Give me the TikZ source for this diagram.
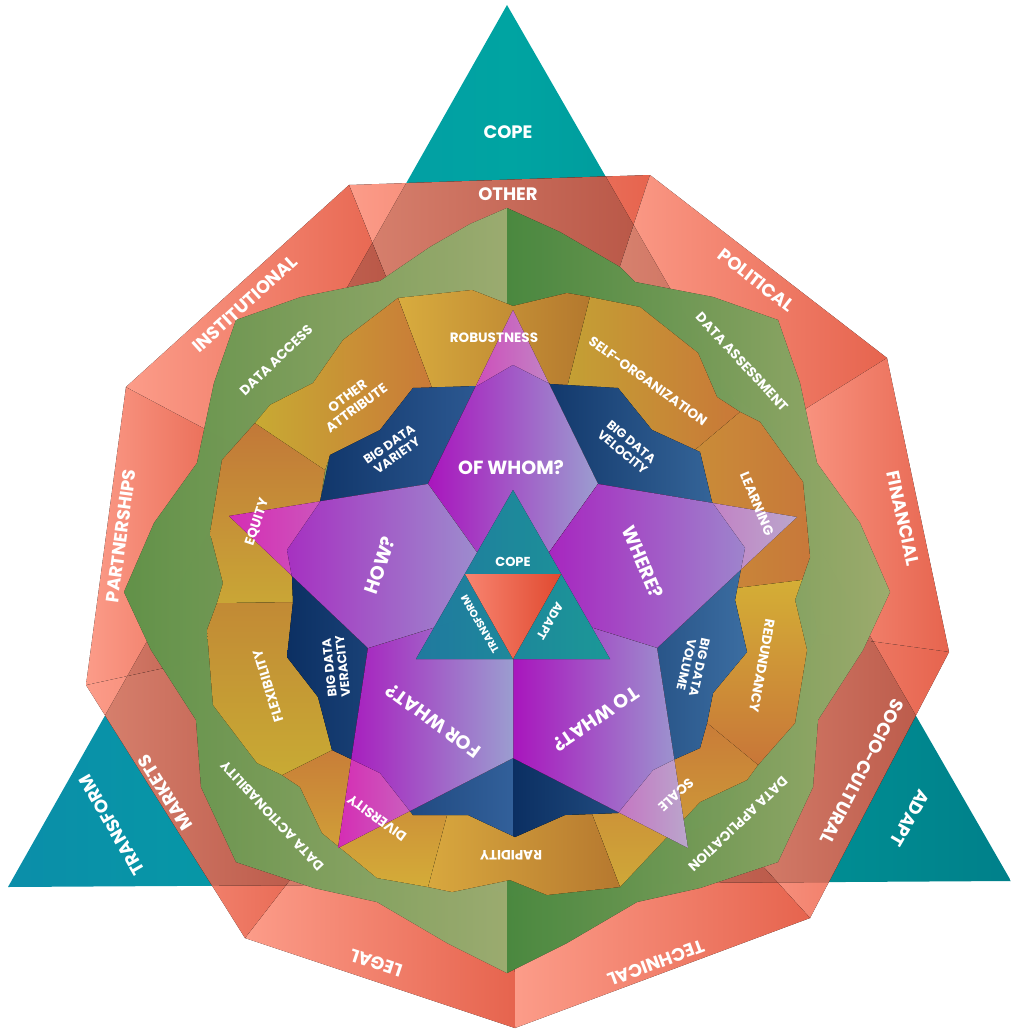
\documentclass[tikz,border=0pt]{standalone}
\usepackage{fontspec}
\setmainfont{Poppins}
\usetikzlibrary{calc}
\definecolor{salL}{HTML}{FC9C89}
\definecolor{salR}{HTML}{E6644E}
\definecolor{salTL}{HTML}{D8826F}
\definecolor{salTR}{HTML}{B85646}
\definecolor{tealL}{HTML}{0B8EA9}
\definecolor{tealM}{HTML}{00A4A2}
\definecolor{tealR}{HTML}{00808A}
\definecolor{grnDL}{HTML}{689C4E}
\definecolor{grnLL}{HTML}{A6B878}
\definecolor{grnDR}{HTML}{4F9244}
\definecolor{grnLR}{HTML}{A9B976}
\definecolor{navyD}{HTML}{0B2F62}
\definecolor{navyL}{HTML}{3C6EA2}
\definecolor{magK}{HTML}{A915BD}
\definecolor{lavK}{HTML}{9B9DD0}
\definecolor{tipL}{HTML}{D52DB4}
\definecolor{tipR}{HTML}{BAA6CC}
\definecolor{copeL}{HTML}{2282AA}
\definecolor{copeR}{HTML}{1DA3A2}
\definecolor{redL}{HTML}{F88470}
\definecolor{redR}{HTML}{E04A30}
\newcommand\Gpath{(507,208)--(560,232)--(620,267)--(635,282)--(713,297)--(778,320)--(800,383)--(817,463)--(860,523)--(890,592)--(863,650)--(818,720)--(813,787)--(778,862)--(700,888)--(637,902)--(567,943)--(507,973)--(447,943)--(377,902)--(314,888)--(236,862)--(201,787)--(196,720)--(151,650)--(124,592)--(154,523)--(197,463)--(214,383)--(236,320)--(301,297)--(380,281)--(430,247)--(470,224)--cycle}
\newcommand\Bpath{(513,365)--(550,384)--(618,388)--(652,430)--(700,452)--(712,502)--(745,548)--(735,600)--(747,652)--(713,693)--(707,723)--(700,748)--(673,760)--(653,770)--(618,813)--(565,815)--(515,837)--(468,815)--(413,815)--(380,773)--(353,760)--(332,750)--(318,697)--(287,657)--(293,602)--(292,577)--(287,550)--(320,502)--(330,455)--(380,430)--(413,388)--(477,386)--cycle}
\begin{document}
\begin{tikzpicture}[x=1pt,y=-1pt,
  lab/.style={text=white, inner sep=0pt, align=center},
  big/.style={lab, font=\bfseries\fontsize{18}{20}\selectfont},
  mid/.style={lab, font=\bfseries\fontsize{13.5}{15}\selectfont},
  sml/.style={lab, font=\bfseries\fontsize{12.5}{13.5}\selectfont},
  starl/.style={lab, font=\bfseries\fontsize{19}{21}\selectfont},
  panel/.style={left color=salL, right color=salR},
  panelT/.style={left color=salTL, right color=salTR},
  kiteshade/.style={left color=magK, right color=lavK},
  tipshade/.style={left color=tipL, right color=tipR},
]
\useasboundingbox (0,0) rectangle (1011,1030);
% big teal triangle
\coordinate (TA) at (507,5); \coordinate (TB) at (8,887); \coordinate (TC) at (1011,881);
\shade[left color=tealL, right color=tealR, middle color=tealM] (TA)--(TB)--(TC)--cycle;
% red panels
\coordinate (Cn) at (513,592);
\foreach \n/\x/\y in {0/349/185,1/650/175,2/887/358,3/949/652,4/810/918,5/515/1028,6/245/938,7/86/685,8/126/387}
  \coordinate (V\n) at (\x,\y);
\foreach \n in {0,...,8} \coordinate (W\n) at ($(Cn)!0.7!(V\n)$);
\foreach \a/\b in {0/1,1/2,2/3,3/4,4/5,5/6,6/7,7/8,8/0}
  \fill[panel] (V\a)--(V\b)--(W\b)--(W\a)--cycle;
\begin{scope}
\clip (TA)--(TB)--(TC)--cycle;
\foreach \a/\b in {0/1,1/2,2/3,3/4,4/5,5/6,6/7,7/8,8/0}
  \fill[panelT] (V\a)--(V\b)--(W\b)--(W\a)--cycle;
\end{scope}
% green
\begin{scope}
\clip \Gpath;
\fill[left color=grnDL, right color=grnLL, fill opacity=0.93] (120,200) rectangle (507,980);
\fill[left color=grnDR, right color=grnLR, fill opacity=0.93] (507,200) rectangle (895,980);
\end{scope}
% orange ring seams
\coordinate (o1) at (398,298); \coordinate (i1) at (432,388);
\coordinate (o2) at (590,297); \coordinate (i2) at (567,388);
\coordinate (o3) at (740,412); \coordinate (i3) at (695,450);
\coordinate (o4) at (802,580); \coordinate (i4) at (737,588);
\coordinate (o5) at (758,765); \coordinate (i5) at (707,723);
\coordinate (o6) at (620,887); \coordinate (i6) at (592,814);
\coordinate (o7) at (428,887); \coordinate (i7) at (447,815);
\coordinate (o8) at (282,775); \coordinate (i8) at (332,750);
\coordinate (o9) at (217,603); \coordinate (i9) at (293,602);
\coordinate (o10) at (255,423); \coordinate (i10) at (325,470);
\fill[left color={rgb,255:red,216;green,172;blue,62}, right color={rgb,255:red,180;green,120;blue,46}]
  (o1)--(472,290)--(513,306)--(567,293)--(o2)--(i2)--(550,384)--(513,365)--(477,386)--(i1)--cycle;
\fill[left color={rgb,255:red,196;green,160;blue,52}, right color={rgb,255:red,201;green,120;blue,56}]
  (o2)--(640,307)--(698,353)--(717,397)--(o3)--(i3)--(652,430)--(618,388)--(i2)--cycle;
\fill[left color={rgb,255:red,201;green,140;blue,56}, right color={rgb,255:red,200;green,120;blue,58}]
  (o3)--(760,422)--(803,482)--(810,557)--(o4)--(i4)--(745,548)--(712,502)--(700,452)--(i3)--cycle;
\fill[top color={rgb,255:red,212;green,174;blue,54}, bottom color={rgb,255:red,200;green,118;blue,56}]
  (o4)--(795,600)--(807,650)--(795,723)--(o5)--(i5)--(713,693)--(747,652)--(735,600)--(i4)--cycle;
\fill[top color={rgb,255:red,201;green,124;blue,56}, bottom color={rgb,255:red,207;green,168;blue,56}]
  (o5)--(747,780)--(700,802)--(o6)--(i6)--(618,813)--(653,770)--(673,760)--(700,748)--(i5)--cycle;
\fill[left color={rgb,255:red,216;green,168;blue,62}, right color={rgb,255:red,182;green,120;blue,47}]
  (o6)--(547,895)--(510,880)--(452,892)--(o7)--(i7)--(468,815)--(515,837)--(565,815)--(i6)--cycle;
\fill[top color={rgb,255:red,200;green,126;blue,56}, bottom color={rgb,255:red,212;green,172;blue,56}]
  (o7)--(377,878)--(322,833)--(300,787)--(o8)--(i8)--(353,760)--(380,773)--(413,815)--(i7)--cycle;
\fill[top color={rgb,255:red,194;green,138;blue,53}, bottom color={rgb,255:red,200;green,170;blue,52}]
  (o8)--(257,763)--(213,705)--(207,630)--(o9)--(i9)--(287,657)--(318,697)--(i8)--cycle;
\fill[top color={rgb,255:red,194;green,120;blue,56}, bottom color={rgb,255:red,201;green,166;blue,54}]
  (o9)--(223,583)--(210,533)--(222,460)--(o10)--(i10)--(320,502)--(287,550)--(292,577)--(i9)--cycle;
\fill[left color={rgb,255:red,200;green,170;blue,51}, right color={rgb,255:red,201;green,122;blue,56}]
  (o10)--(270,405)--(313,383)--(343,340)--(o1)--(i1)--(413,388)--(380,430)--(330,455)--(i10)--cycle;
% blue ring
\begin{scope}
\clip \Bpath;
\fill[left color=navyD, right color={rgb,255:red,50;green,96;blue,154}] (285,360) rectangle (513,840);
\fill[left color=navyD, right color=navyL] (513,360) rectangle (750,840);
\end{scope}
% star kites
\coordinate (C) at (513,603);
\coordinate (T0) at (513,310); \coordinate (I01) at (598,484);
\coordinate (T1) at (797,517); \coordinate (I12) at (657,648);
\coordinate (T2) at (688,848); \coordinate (I23) at (513,758);
\coordinate (T3) at (338,848); \coordinate (I34) at (368,648);
\coordinate (T4) at (229,516); \coordinate (I40) at (428,484);
\foreach \t/\r/\l in {T0/I01/I40,T1/I12/I01,T2/I23/I12,T3/I34/I23,T4/I40/I34}{
  \fill[tipshade] (\t)--(\r)--(C)--(\l)--cycle;
  \begin{scope}\clip \Bpath; \fill[kiteshade] (\t)--(\r)--(C)--(\l)--cycle; \end{scope}
}
% central triangles
\fill[left color=copeL, right color=copeR, fill opacity=0.93] (513,490)--(416,659)--(610,659)--cycle;
\fill[left color=redL, right color=redR] (465,574)--(561,574)--(513,659)--cycle;
% outer labels
\node[big] (lcope) at (508,132) {COPE};
\node[big, rotate=120] (ltrans) at (112,825) {TRANSFORM};
\node[big, rotate=-120] (ladapt) at (910,818) {ADAPT};
\node[big] (p0) at (508,194) {OTHER};
\node[big, rotate=-37.7] (p1) at (756,280) {POLITICAL};
\node[big, rotate=-78] (p2) at (903,518) {FINANCIAL};
\node[big, rotate=-117.6] (p3) at (862,772) {SOCIO-CULTURAL};
\node[big, rotate=-159.5] (p4) at (656,963) {TECHNICAL};
\node[big, rotate=161.6] (p5) at (376,963) {LEGAL};
\node[big, rotate=122] (p6) at (165,793) {MARKETS};
\node[big, rotate=82.4] (p7) at (121,536) {PARTNERSHIPS};
\node[big, rotate=42.2] (p8) at (245,304) {INSTITUTIONAL};
% green labels
\node[mid, rotate=43.8] (g1) at (276,360) {DATA ACCESS};
\node[mid, rotate=-47.4] (g2) at (742,362) {DATA ASSESSMENT};
\node[mid, rotate=-136.5] (g3) at (738,824) {DATA APPLICATION};
\node[mid, rotate=133] (g4) at (272,816) {DATA ACTIONABILITY};
% orange labels
\node[mid] (a1) at (494,338) {ROBUSTNESS};
\node[mid, rotate=-35.6] (a2) at (648,381) {SELF-ORGANIZATION};
\node[mid, rotate=-67.4] (a3) at (757,504) {LEARNING};
\node[mid, rotate=-100] (a4) at (762,666) {REDUNDANCY};
\node[mid, rotate=-137.7] (a5) at (676,795) {SCALE};
\node[mid, rotate=180] (a6) at (511,855) {RAPIDITY};
\node[mid, rotate=144] (a7) at (377,818) {DIVERSITY};
\node[mid, rotate=107] (a8) at (268,686) {FLEXIBILITY};
\node[mid, rotate=71.6] (a9) at (257,522) {EQUITY};
\node[mid, rotate=36.4] (a10) at (352,402) {OTHER\\ATTRIBUTE};
% big data labels
\node[sml, rotate=34.9] (b1) at (393,450) {BIG DATA\\VARIETY};
\node[sml, rotate=-39.8] (b2) at (627,447) {BIG DATA\\VELOCITY};
\node[sml, rotate=-102.5] (b3) at (693,666) {BIG DATA\\VOLUME};
\node[sml, rotate=96] (b4) at (336,667) {BIG DATA\\VERACITY};
% star labels
\node[starl] (s0) at (511,468) {OF WHOM?};
\node[starl, rotate=-66.8] (s1) at (643,562) {WHERE?};
\node[starl, rotate=-145.7] (s2) at (596,719) {TO WHAT?};
\node[starl, rotate=144] (s3) at (433,721) {FOR WHAT?};
\node[starl, rotate=71] (s4) at (380,565) {HOW?};
% centre labels
\node[lab, font=\bfseries\fontsize{13}{14}\selectfont] (c1) at (513,562) {COPE};
\node[lab, font=\bfseries\fontsize{10.5}{12}\selectfont, rotate=120] (c2) at (480,624) {TRANSFORM};
\node[lab, font=\bfseries\fontsize{12}{13}\selectfont, rotate=-120] (c3) at (550,621) {ADAPT};
\end{tikzpicture}
\end{document}
